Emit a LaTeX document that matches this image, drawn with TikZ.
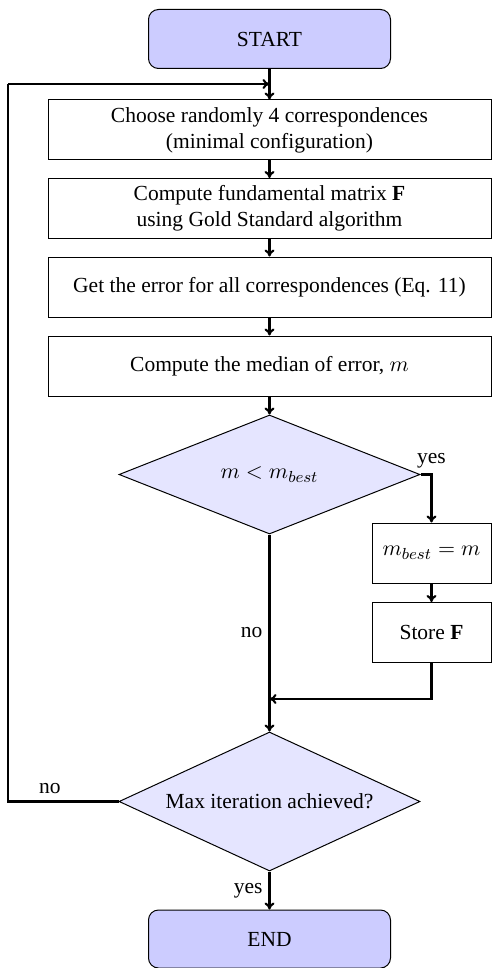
\documentclass[tikz,border=0pt]{standalone}
\usepackage{fontspec}
\setmainfont{Liberation Serif}
\usetikzlibrary{shapes.geometric,arrows.meta}
\begin{document}
\begin{tikzpicture}[x=0.5pt,y=-0.5pt,
  every node/.style={font=\fontsize{10.75}{13}\selectfont},
  term/.style={draw, line width=0.5pt, rounded corners=5pt, fill=blue!20,
    minimum width=121pt, minimum height=29.5pt, inner sep=0pt},
  proc/.style={draw, line width=0.5pt, minimum width=221.5pt, minimum height=30pt,
    inner sep=0pt, align=center},
  sproc/.style={draw, line width=0.5pt, minimum width=59.5pt, minimum height=30pt,
    inner sep=0pt, align=center},
  dec/.style={draw, line width=0.5pt, diamond, fill=blue!10, inner sep=0pt,
    minimum width=150.5pt},
  arr/.style={-{To[length=3.5pt,width=5pt]}, line width=1.05pt},
  con/.style={line width=1.05pt},
  lbl/.style={inner sep=2pt}
]
\useasboundingbox (0,0) rectangle (492,968);

\node[term] (start) at (269.5,39) {START};
\node[proc] (choose) at (269.5,130) {Choose randomly 4 correspondences\\(minimal configuration)};
\node[proc] (compute) at (269.5,208.5) {Compute fundamental matrix \textbf{F}\\using Gold Standard algorithm};
\node[proc] (geterr) at (269.5,287) {Get the error for all correspondences (Eq. 11)};
\node[proc] (median) at (269.5,366) {Compute the median of error, $m$};
\node[dec, aspect=2.5, minimum height=59.5pt] (dec1) at (269.5,474.5) {$m < m_{best}$};
\node[sproc] (mbest) at (431.5,553) {$m_{best} = m$};
\node[sproc] (store) at (431.5,632.5) {Store \textbf{F}};
\node[dec, aspect=2.17, minimum height=69.5pt] (dec2) at (269.5,801.5) {Max iteration achieved?};
\node[term, minimum height=29pt] (end) at (269.5,939) {END};

\coordinate (loopin) at (269.5,84);
\coordinate (lc) at (8,84);
\coordinate (join) at (269.5,699);

\draw[arr] (start) -- (choose);
\draw[arr] (choose) -- (compute);
\draw[arr] (compute) -- (geterr);
\draw[arr] (geterr) -- (median);
\draw[arr] (median) -- (dec1);
\draw[arr] (dec1.east) -| node[pos=0.5, above=2.5pt, lbl, inner sep=0pt] {yes} (mbest.north);
\draw[arr] (mbest) -- (store);
\draw[arr] (store.south) |- (join);
\draw[arr] (dec1.south) -- node[left, lbl, inner sep=3pt, pos=0.5] {no} (dec2.north);
\draw[arr] (dec2.south) -- node[left, lbl, inner sep=3pt, pos=0.5] {yes} (end.north);
\draw[con] (dec2.west) -| node[pos=0.31, above] {no} (lc);
\draw[arr] (lc) -- (loopin);
\end{tikzpicture}
\end{document}
